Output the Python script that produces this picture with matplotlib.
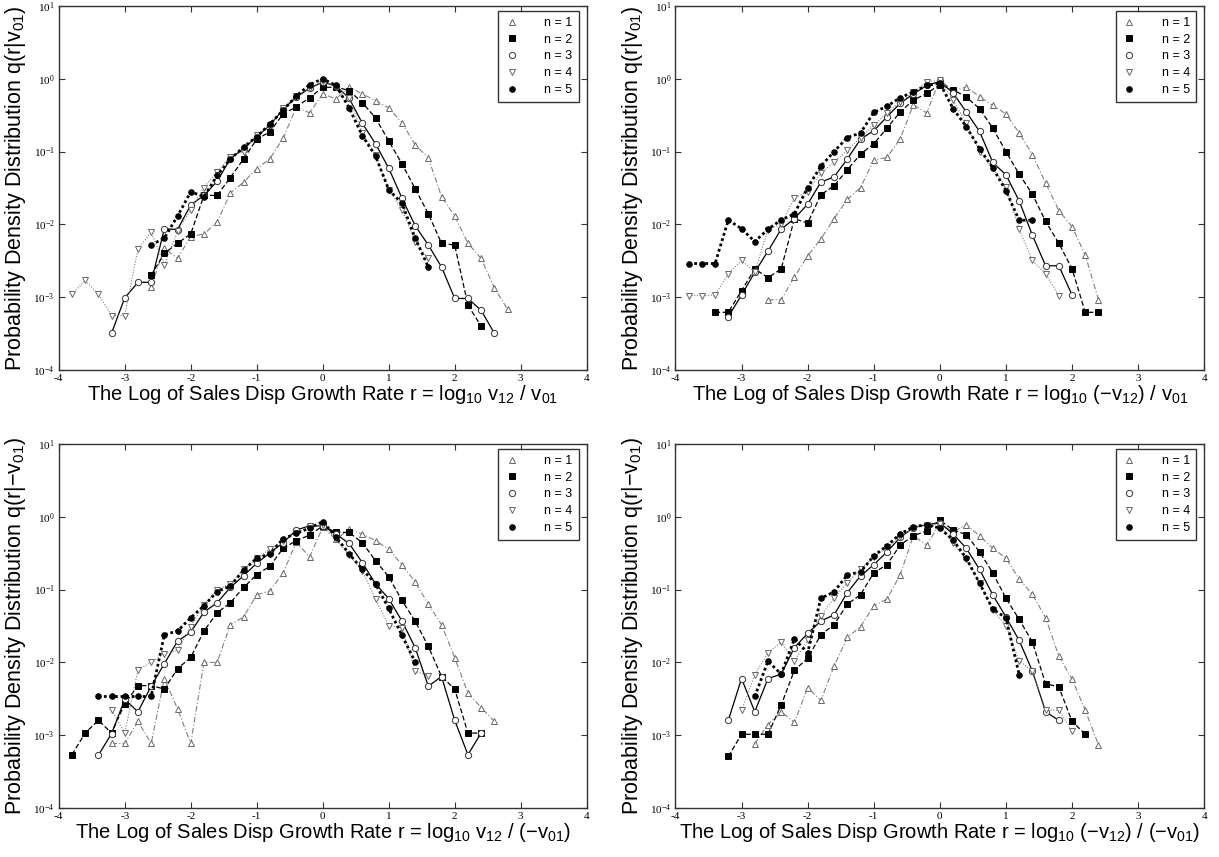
import matplotlib
matplotlib.use("Agg")
import matplotlib.pyplot as plt
from matplotlib.lines import Line2D
from matplotlib.ticker import FixedLocator, NullLocator, LogFormatterSciNotation

plt.rcParams['font.family'] = ['Liberation Sans', 'DejaVu Sans']
plt.rcParams['mathtext.default'] = 'regular'
plt.rcParams['axes.unicode_minus'] = False

# growth-rate bins shared by every curve
R_GRID = [-3.8, -3.6, -3.4, -3.2, -3.0, -2.8, -2.6, -2.4, -2.2, -2.0, -1.8, -1.6, -1.4, -1.2,
          -1.0, -0.8, -0.6, -0.4, -0.2, 0.0, 0.2, 0.4, 0.6, 0.8, 1.0, 1.2, 1.4, 1.6, 1.8, 2.0,
          2.2, 2.4, 2.6, 2.8]
SERIES_LABELS = ['n = 1', 'n = 2', 'n = 3', 'n = 4', 'n = 5']

# panel 1: q(r|v01), r = log10 v12 / v01
P1_START = [-2.6, -2.6, -3.2, -3.8, -2.6]
P1_N1 = [1.4e-3, 4.7e-3, 3.4e-3, 6.8e-3, 7.4e-3, 1.07e-2, 2.7e-2, 3.8e-2, 5.8e-2, 0.08, 0.153, 0.41, 0.34,
         0.62, 0.53, 0.77, 0.62, 0.50, 0.40, 0.25, 0.124, 0.082, 0.024, 0.013, 5.5e-3, 3.4e-3, 1.35e-3, 6.8e-4]
P1_N2 = [2.0e-3, 4.0e-3, 5.5e-3, 7.4e-3, 2.5e-2, 2.5e-2, 4.4e-2, 0.079, 0.148, 0.187, 0.33, 0.41, 0.55,
         0.76, 0.77, 0.69, 0.47, 0.29, 0.14, 0.068, 0.031, 0.014, 5.5e-3, 5.2e-3, 7.8e-4, 4.0e-4]
P1_N3 = [3.2e-4, 9.8e-4, 1.6e-3, 1.6e-3, 8.7e-3, 8.5e-3, 1.85e-2, 2.5e-2, 3.9e-2, 8.0e-2, 0.11, 0.16, 0.23,
         0.38, 0.56, 0.74, 0.90, 0.80, 0.54, 0.245, 0.128, 0.059, 0.023, 9.6e-3, 5.2e-3, 2.6e-3, 9.6e-4,
         9.6e-4, 6.6e-4, 3.2e-4]
P1_N4 = [1.1e-3, 1.7e-3, 1.1e-3, 5.6e-4, 5.6e-4, 4.6e-3, 7.8e-3, 2.8e-3, 8.0e-3, 1.6e-2, 3.2e-2, 5.3e-2,
         8.5e-2, 0.10, 0.17, 0.23, 0.40, 0.58, 0.75, 0.92, 0.78, 0.55, 0.18, 0.09, 0.03, 0.016, 5.8e-3, 3.4e-3]
P1_N5 = [5.2e-3, 6.5e-3, 1.3e-2, 2.8e-2, 2.4e-2, 4.7e-2, 7.9e-2, 0.115, 0.16, 0.24, 0.37, 0.58, 0.83, 1.0,
         0.81, 0.40, 0.165, 0.087, 0.030, 0.0195, 6.5e-3, 2.6e-3]

# panel 2: q(r|v01), r = log10 (-v12) / v01
P2_START = [-2.6, -3.4, -3.2, -3.8, -3.8]
P2_N1 = [9.2e-4, 9.2e-4, 1.9e-3, 3.7e-3, 6.3e-3, 1.2e-2, 2.2e-2, 3.2e-2, 0.077, 0.083, 0.15, 0.44, 0.34,
         0.97, 0.68, 0.77, 0.57, 0.43, 0.33, 0.18, 0.091, 0.037, 0.0155, 9.3e-3, 3.8e-3, 9.2e-4]
P2_N2 = [6.2e-4, 6.2e-4, 1.23e-3, 2.45e-3, 1.85e-3, 2.45e-3, 1.2e-2, 1.04e-2, 2.55e-2, 3.4e-2, 0.056, 0.092,
         0.128, 0.21, 0.35, 0.51, 0.63, 0.83, 0.71, 0.56, 0.39, 0.21, 0.10, 0.049, 0.026, 0.011, 5.5e-3,
         2.45e-3, 6.2e-4, 6.2e-4]
P2_N3 = [5.4e-4, 1.07e-3, 2.2e-3, 4.3e-3, 8.6e-3, 1.2e-2, 1.9e-2, 3.8e-2, 4.5e-2, 0.079, 0.148, 0.194, 0.30,
         0.46, 0.62, 0.81, 0.92, 0.64, 0.35, 0.19, 0.071, 0.048, 0.021, 7.1e-3, 2.7e-3, 2.7e-3, 1.07e-3]
P2_N4 = [1.05e-3, 1.05e-3, 1.07e-3, 2.1e-3, 3.2e-3, 2.2e-3, 8.5e-3, 1.0e-2, 2.3e-2, 2.8e-2, 0.051, 0.071,
         0.105, 0.156, 0.23, 0.34, 0.48, 0.65, 0.90, 0.97, 0.51, 0.245, 0.10, 0.06, 0.033, 8.6e-3, 3.2e-3,
         2.1e-3, 1.05e-3]
P2_N5 = [2.9e-3, 2.9e-3, 2.9e-3, 1.15e-2, 8.7e-3, 5.8e-3, 8.6e-3, 1.15e-2, 1.4e-2, 3.2e-2, 0.063, 0.10, 0.156,
         0.18, 0.345, 0.42, 0.55, 0.66, 0.81, 0.87, 0.39, 0.22, 0.11, 0.06, 0.029, 0.0114, 0.0114]

# panel 3: q(r|-v01), r = log10 v12 / (-v01)
P3_START = [-3.2, -3.8, -3.4, -3.2, -3.4]
P3_N1 = [7.7e-4, 7.7e-4, 1.55e-3, 7.7e-4, 6.0e-3, 2.3e-3, 7.7e-4, 1.0e-2, 1.0e-2, 3.3e-2, 4.2e-2, 0.085,
         0.096, 0.17, 0.45, 0.28, 0.72, 0.49, 0.67, 0.58, 0.47, 0.36, 0.22, 0.128, 0.063, 0.033, 0.0116,
         3.8e-3, 2.4e-3, 1.55e-3]
P3_N2 = [5.4e-4, 1.07e-3, 1.6e-3, 1.07e-3, 2.7e-3, 4.8e-3, 4.8e-3, 4.3e-3, 8.2e-3, 1.17e-2, 2.7e-2, 4.8e-2,
         0.066, 0.107, 0.16, 0.21, 0.37, 0.47, 0.56, 0.75, 0.61, 0.61, 0.44, 0.25, 0.15, 0.071, 0.037,
         0.0166, 6.4e-3, 4.3e-3, 1.07e-3, 1.07e-3]
P3_N3 = [5.3e-4, 1.05e-3, 3.1e-3, 2.1e-3, 4.7e-3, 9.6e-3, 1.96e-2, 2.6e-2, 0.049, 0.066, 0.107, 0.155, 0.23,
         0.32, 0.44, 0.66, 0.75, 0.75, 0.58, 0.43, 0.235, 0.12, 0.075, 0.037, 0.016, 4.7e-3, 6.4e-3, 1.6e-3,
         5.4e-4, 1.07e-3]
P3_N4 = [2.2e-3, 1.07e-3, 7.9e-3, 1.0e-2, 1.32e-2, 1.47e-2, 3.1e-2, 0.062, 0.098, 0.12, 0.19, 0.27, 0.36,
         0.47, 0.60, 0.75, 0.77, 0.49, 0.30, 0.18, 0.074, 0.032, 0.030, 7.6e-3, 6.5e-3]
P3_N5 = [3.4e-3, 3.4e-3, 3.4e-3, 3.4e-3, 3.4e-3, 2.4e-2, 2.7e-2, 4.1e-2, 0.06, 0.094, 0.112, 0.185, 0.27,
         0.31, 0.50, 0.59, 0.70, 0.86, 0.53, 0.31, 0.19, 0.12, 0.055, 0.0236, 0.0102]

# panel 4: q(r|-v01), r = log10 (-v12) / (-v01)
P4_START = [-2.8, -3.2, -3.2, -3.0, -2.8]
P4_N1 = [7.6e-4, 1.4e-3, 2.1e-3, 1.5e-3, 4.5e-3, 3.0e-3, 8.9e-3, 2.2e-2, 3.1e-2, 0.06, 0.074, 0.16, 0.55,
         0.41, 0.80, 0.62, 0.78, 0.55, 0.37, 0.27, 0.14, 0.086, 0.041, 0.0122, 5.9e-3, 2.2e-3, 7.4e-4]
P4_N2 = [5.1e-4, 1.03e-3, 1.03e-3, 1.03e-3, 2.6e-3, 7.8e-3, 1.14e-2, 2.4e-2, 3.3e-2, 0.063, 0.085, 0.17,
         0.22, 0.41, 0.55, 0.64, 0.9, 0.66, 0.57, 0.33, 0.17, 0.076, 0.039, 0.019, 5.1e-3, 4.6e-3, 1.55e-3,
         1.03e-3]
P4_N3 = [1.6e-3, 6.0e-3, 2.1e-3, 6.0e-3, 6.9e-3, 1.6e-2, 2.5e-2, 3.7e-2, 4.5e-2, 0.091, 0.154, 0.22, 0.33,
         0.52, 0.71, 0.78, 0.83, 0.58, 0.37, 0.19, 0.085, 0.042, 0.02, 7.6e-3, 2.1e-3, 1.6e-3]
P4_N4 = [2.2e-3, 6.8e-3, 1.35e-2, 1.9e-2, 1.05e-2, 2.0e-2, 0.044, 0.076, 0.125, 0.19, 0.28, 0.38, 0.52,
         0.71, 0.78, 0.79, 0.43, 0.26, 0.125, 0.052, 0.032, 0.0105, 7.6e-3, 2.2e-3, 2.2e-3, 1.14e-3]
P4_N5 = [3.4e-3, 1.04e-2, 6.9e-3, 2.1e-2, 1.36e-2, 0.076, 0.093, 0.16, 0.175, 0.29, 0.40, 0.58, 0.73, 0.78,
         0.70, 0.48, 0.27, 0.123, 0.054, 0.041, 6.8e-3]

X_TICKS = [-4, -3, -2, -1, 0, 1, 2, 3, 4]
Y_TICKS = [1e-4, 1e-3, 1e-2, 1e-1, 1e0, 1e1]

XLABEL_BASE = 'The Log of Sales Disp Growth Rate r = '
PANELS = [
    (P1_START, [P1_N1, P1_N2, P1_N3, P1_N4, P1_N5],
     r'q(r|v$_{01}$)', r'log$_{10}$ v$_{12}$ / v$_{01}$'),
    (P2_START, [P2_N1, P2_N2, P2_N3, P2_N4, P2_N5],
     r'q(r|v$_{01}$)', 'log$_{10}$ (\u2212v$_{12}$) / v$_{01}$'),
    (P3_START, [P3_N1, P3_N2, P3_N3, P3_N4, P3_N5],
     'q(r|\u2212v$_{01}$)', 'log$_{10}$ v$_{12}$ / (\u2212v$_{01}$)'),
    (P4_START, [P4_N1, P4_N2, P4_N3, P4_N4, P4_N5],
     'q(r|\u2212v$_{01}$)', 'log$_{10}$ (\u2212v$_{12}$) / (\u2212v$_{01}$)'),
]

# one style per n
STYLES = [
    dict(marker='^', mfc='white', mec='#666666', color='#808080', ls=(0, (5, 2, 1, 2)), lw=0.8, ms=4.5, mew=0.7),
    dict(marker='s', mfc='black', mec='black', color='black', ls=(0, (4, 2)), lw=0.9, ms=4.0, mew=0.7),
    dict(marker='o', mfc='white', mec='#333333', color='black', ls='-', lw=0.9, ms=4.5, mew=0.7),
    dict(marker='v', mfc='white', mec='#666666', color='#808080', ls=(0, (1, 1.5)), lw=0.8, ms=4.5, mew=0.7),
    dict(marker='o', mfc='black', mec='black', color='black', ls=(0, (1, 1)), lw=2.0, ms=4.0, mew=0.7),
]

AX_POS = [
    (0.0482, 0.5683, 0.4331, 0.4247),
    (0.5541, 0.5683, 0.4338, 0.4247),
    (0.0482, 0.0572, 0.4331, 0.4247),
    (0.5541, 0.0572, 0.4338, 0.4247),
]


def curve_x(start, count):
    i = R_GRID.index(start)
    return R_GRID[i:i + count]


fig = plt.figure(figsize=(12.19, 8.57), dpi=100)

for pos, (starts, curves, ycond, xexpr) in zip(AX_POS, PANELS):
    ax = fig.add_axes(pos)
    ax.set_yscale('log')
    for start, q, st in zip(starts, curves, STYLES):
        ax.plot(curve_x(start, len(q)), q, **st)
    ax.set_xlim(-4, 4)
    ax.set_ylim(1e-4, 1e1)
    ax.xaxis.set_major_locator(FixedLocator(X_TICKS))
    ax.yaxis.set_major_locator(FixedLocator(Y_TICKS))
    ax.yaxis.set_major_formatter(LogFormatterSciNotation())
    ax.yaxis.set_minor_locator(NullLocator())
    ax.tick_params(direction='in', length=4, width=0.8, top=True, right=True,
                   labelsize=8, pad=3, colors='#333333', labelcolor='black')
    for lab in ax.get_xticklabels() + ax.get_yticklabels():
        lab.set_family(['Liberation Serif', 'DejaVu Serif'])
    for sp in ax.spines.values():
        sp.set_linewidth(1.0)
        sp.set_color('#333333')

    ax.set_ylabel('Probability Density Distribution ' + ycond, fontsize=15.5)
    ax.yaxis.set_label_coords(-0.058, 0.5)
    ax.set_xlabel(XLABEL_BASE + xexpr, fontsize=14.5)
    ax.xaxis.set_label_coords(0.5, -0.035)
    ax.xaxis.label.set_va('top')

    handles = [Line2D([], [], marker=st['marker'], mfc=st['mfc'], mec=st['mec'], ms=st['ms'],
                      mew=st['mew'], ls='none') for st in STYLES]
    leg = ax.legend(handles, SERIES_LABELS, loc='upper right', bbox_to_anchor=(0.985, 0.987),
                    borderaxespad=0, fontsize=9, frameon=True, fancybox=False,
                    handlelength=1.2, handletextpad=2.0, borderpad=0.5, labelspacing=0.38)
    leg.get_frame().set_edgecolor('black')
    leg.get_frame().set_linewidth(1.0)

fig.savefig('out.png', dpi=100)
